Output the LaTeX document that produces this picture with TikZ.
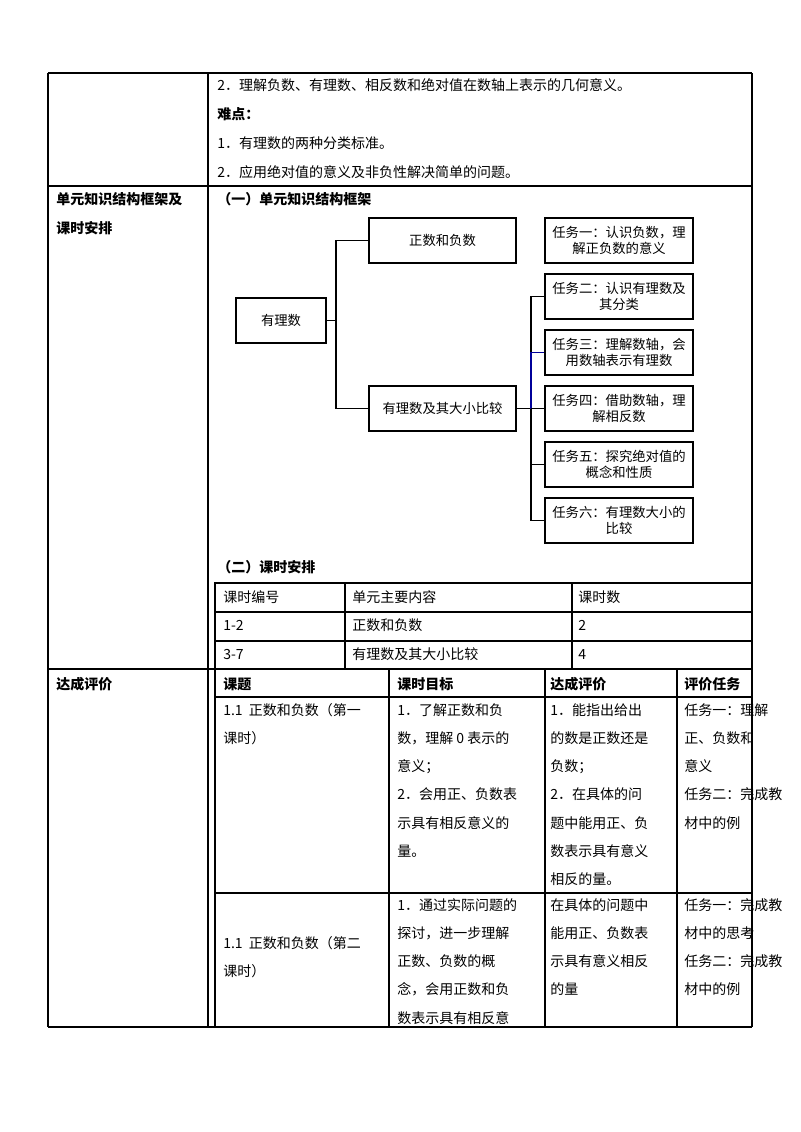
\documentclass[tikz,border=0pt]{standalone}
\usepackage{fontspec}
\setmainfont{Noto Sans CJK SC}
\begin{document}
\begin{tikzpicture}[x=0.75pt,y=-0.75pt,
  txt/.style={anchor=west,inner sep=0pt,font=\fontsize{10.5pt}{12pt}\selectfont},
  btxt/.style={txt,font=\fontsize{10.5pt}{12pt}\selectfont\bfseries},
  mtxt/.style={txt,align=left,anchor=north west,font=\fontsize{10.5pt}{21.2pt}\selectfont},
  grid/.style={line width=0.8pt},
  box/.style={draw,line width=0.9pt,inner sep=1pt,font=\fontsize{10pt}{12pt}\selectfont,align=center},
  conn/.style={line width=0.9pt}]
\useasboundingbox (0,0) rectangle (800,1132);
% outer table
\draw[line width=1.6pt] (48,73) -- (752,73);
\draw[grid] (48,73) -- (48,1027) (208,73) -- (208,1027) (752,73) -- (752,1027);
\draw[grid] (48,186) -- (752,186) (48,669) -- (752,669) (48,1027) -- (752,1027);
% top rows
\node[txt] (t1) at (217,85) {2．理解负数、有理数、相反数和绝对值在数轴上表示的几何意义。};
\node[btxt] (t2) at (217,114) {难点：};
\node[txt] (t3) at (217,143) {1．有理数的两种分类标准。};
\node[txt] (t4) at (217,172) {2．应用绝对值的意义及非负性解决简单的问题。};
\node[btxt] (l1) at (56,199) {单元知识结构框架及};
\node[btxt] (l2) at (56,228) {课时安排};
\node[btxt] (h1) at (217,199) {（一）单元知识结构框架};
% tree
\node[box,minimum width=67.5pt,minimum height=33.75pt] (r) at (281,320.5) {有理数};
\node[box,minimum width=110.25pt,minimum height=33.75pt] (a) at (442.5,240.5) {正数和负数};
\node[box,minimum width=110.25pt,minimum height=33.75pt] (b) at (442.5,408.5) {有理数及其大小比较};
\foreach \n/\y/\t in {k1/240.5/{任务一：认识负数，理\\解正负数的意义},
  k2/296.5/{任务二：认识有理数及\\其分类},
  k3/352.5/{任务三：理解数轴，会\\用数轴表示有理数},
  k4/408.5/{任务四：借助数轴，理\\解相反数},
  k5/464.5/{任务五：探究绝对值的\\概念和性质},
  k6/520.5/{任务六：有理数大小的\\比较}}
  \node[box,minimum width=111pt,minimum height=33.75pt] (\n) at (619,\y) {\t};
\coordinate (ja) at (336,240.5);
\coordinate (jb) at (336,408.5);
\draw[conn] (r.east) -- (336,320.5);
\draw[conn] (a.west) -- (ja) -- (jb) -- (b.west);
\coordinate (bus) at (531,408.5);
\draw[conn] (b.east) -- (bus);
\draw[conn] (k2.west) -- (531,296.5) -- (531,352.5);
\draw[conn] (bus) -- (531,520.5) -- (k6.west);
\draw[conn,blue!60!black] (k3.west) -- (531,352.5) -- (bus);
\draw[conn] (k4.west) -- (bus);
\draw[conn] (k5.west) -- (531,464.5);
% schedule
\node[btxt] (h2) at (217,567) {（二）课时安排};
\draw[grid] (215,583) rectangle (752,669);
\draw[grid] (215,612) -- (752,612) (215,641) -- (752,641) (345,583) -- (345,669) (572,583) -- (572,669);
\node[txt] (s1) at (223,597) {课时编号};
\node[txt] (s2) at (352,597) {单元主要内容};
\node[txt] (s3) at (578,597) {课时数};
\node[txt] (s4) at (223,625) {1-2};
\node[txt] (s5) at (352,625) {正数和负数};
\node[txt] (s6) at (578,625) {2};
\node[txt] (s7) at (223,654) {3-7};
\node[txt] (s8) at (352,654) {有理数及其大小比较};
\node[txt] (s9) at (578,654) {4};
% evaluation
\node[btxt] (l3) at (56,684) {达成评价};
\draw[line width=1.4pt] (215,669) -- (752,669);
\draw[grid] (215,669) -- (215,1027) (389,669) -- (389,1027) (545,669) -- (545,1027) (677,669) -- (677,1027);
\draw[grid] (215,697) -- (752,697) (215,893) -- (752,893);
\node[btxt] (e1) at (223,684) {课题};
\node[btxt] (e2) at (397,684) {课时目标};
\node[btxt] (e3) at (550,684) {达成评价};
\node[btxt] (e4) at (684,684) {评价任务};
\node[mtxt] (c11) at (223,703) {1.1\ \ 正数和负数（第一\\课时）};
\node[mtxt] (c12) at (397,703) {1．了解正数和负\\数，理解 0 表示的\\意义；\\2．会用正、负数表\\示具有相反意义的\\量。};
\node[mtxt] (c13) at (550,703) {1．能指出给出\\的数是正数还是\\负数；\\2．在具体的问\\题中能用正、负\\数表示具有意义\\相反的量。};
\node[mtxt] (c14) at (684,703) {任务一：理解\\正、负数和\\意义\\任务二：完成教\\材中的例};
\node[mtxt] (c21) at (223,936) {1.1\ \ 正数和负数（第二\\课时）};
\node[mtxt] (c22) at (397,898) {1．通过实际问题的\\探讨，进一步理解\\正数、负数的概\\念，会用正数和负\\数表示具有相反意};
\node[mtxt] (c23) at (550,898) {在具体的问题中\\能用正、负数表\\示具有意义相反\\的量};
\node[mtxt] (c24) at (684,898) {任务一：完成教\\材中的思考\\任务二：完成教\\材中的例};
\end{tikzpicture}
\end{document}
